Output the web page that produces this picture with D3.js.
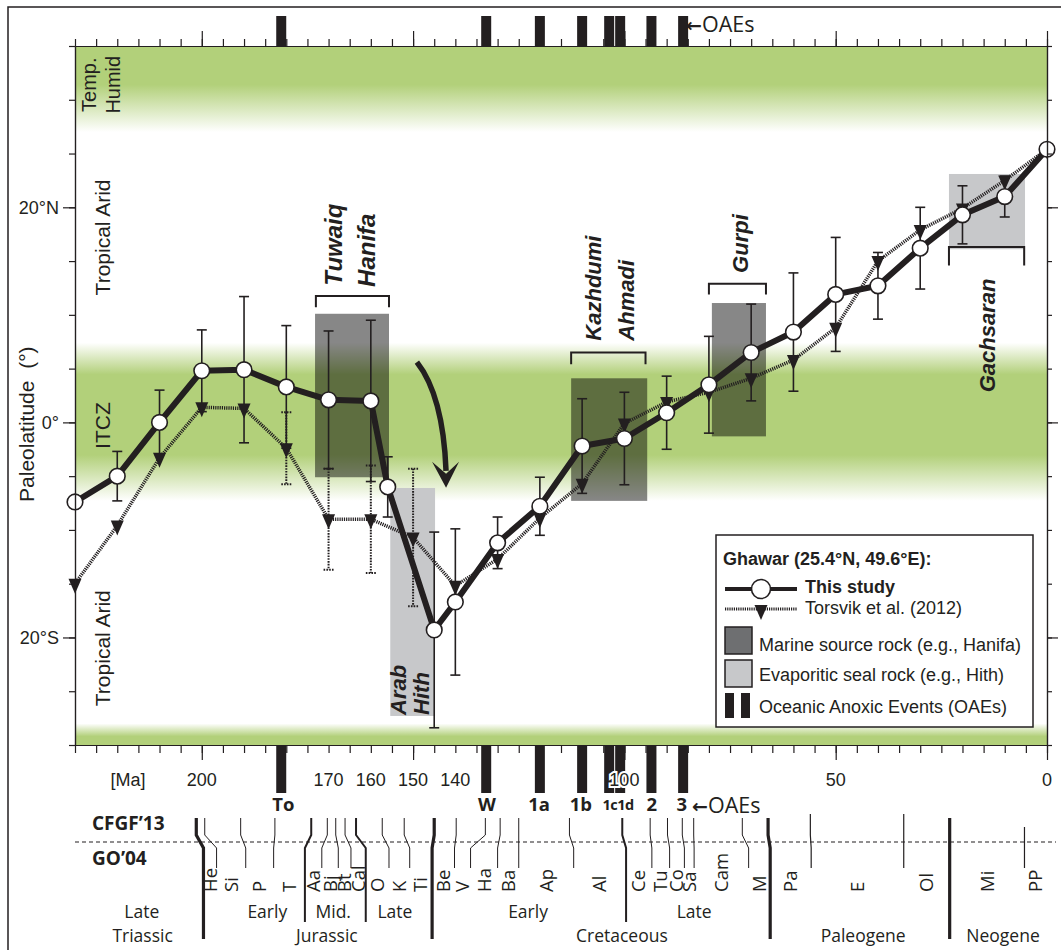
<!DOCTYPE html>
<html>
<head>
<meta charset="utf-8">
<script src="https://cdnjs.cloudflare.com/ajax/libs/d3/7.8.5/d3.min.js"></script>
<style>
  body { margin: 0; background: #fff; }
  svg text { font-family: "Liberation Sans", Arial, sans-serif; fill: #231f20; }
  svg .scale text { font-family: "Open Sans", sans-serif; }
  svg .scale tspan.arrow { font-family: "DejaVu Sans", sans-serif; }
</style>
</head>
<body>
<div id="chart"></div>
<script>
"use strict";

// == DATA ==
// This study (Ghawar), age in Ma, paleolatitude in degrees, 95% error
var studyAge = [230, 220, 210, 200, 190, 180, 170, 160, 156, 145, 140, 130, 120, 110, 100, 90, 80, 70, 60, 50, 40, 30, 20, 10, 0];
var studyLat = [-7.4, -5.0, 0.0, 4.8, 4.9, 3.3, 2.1, 2.0, -6.0, -19.3, -16.7, -11.2, -7.8, -2.2, -1.5, 0.9, 3.5, 6.5, 8.4, 11.9, 12.7, 16.2, 19.3, 21.0, 25.4];
var studyErr = [0, 2.3, 3.0, 3.8, 6.8, 5.7, 6.4, 7.5, 2.8, 9.1, 6.8, 2.4, 2.7, 4.4, 4.3, 3.4, 4.5, 4.5, 5.5, 5.3, 3.1, 3.8, 2.7, 1.9, 0];

// Torsvik et al. (2012)
var torsvikAge = [230, 220, 210, 200, 190, 180, 170, 160, 150, 140, 130, 120, 110, 100, 90, 80, 70, 60, 50, 40, 30, 20, 10, 0];
var torsvikLat = [-15.0, -9.6, -3.3, 1.4, 1.3, -2.4, -9.0, -9.0, -10.7, -15.2, -12.7, -8.9, -5.7, -0.1, 1.9, 2.8, 4.1, 5.8, 8.8, 15.0, 17.9, 19.9, 22.5, 25.4];
var torsvikErr = [0, 0, 0, 0, 0, 3.35, 4.7, 5.0, 6.4, 0, 0, 0, 0, 0, 0, 0, 0, 0, 0, 0, 0, 0, 0, 0];

// source rocks (dark boxes) and evaporitic seals (light boxes)
var sourceAge = [[173.2, 155.7], [112.6, 94.6], [79.3, 66.5]];
var sourceLat = [[10.1, -5.1], [4.1, -7.3], [11.1, -1.3]];
var sealAge = [[155.4, 144.8], [23.2, 5.2]];
var sealLat = [[-6.1, -27.3], [23.1, 16.1]];

// brackets above / below the boxes
var bracketAge = [[173.0, 155.7], [112.6, 95.0], [80.0, 66.5], [23.2, 5.4]];
var bracketLat = [[11.75, 10.7], [6.5, 5.4], [12.9, 11.9], [16.3, 14.6]];

// formation names
var formationNames = ["Tuwaiq", "Hanifa", "Kazhdumi", "Ahmadi", "Gurpi", "Arab", "Hith", "Gachsaran"];
var formationAge = [168.9, 160.9, 107.4, 99.6, 72.6, 153.6, 148.1, 14.2];
var formationLat = [12.7, 12.6, 7.6, 7.6, 13.9, -27.2, -27.2, 2.8];
var formationSize = [24, 24, 22, 22, 22, 22, 22, 22];

// arrow (start, control, end)
var arrowAge = [149.1, 142.9, 142.2];
var arrowLat = [5.6, 2.5, -4.5];

// Oceanic Anoxic Events
var oaeAge = [181.2, 132.7, 120.0, 110.0, 103.6, 101.0, 93.6, 86.1];
var oaeLabels = ["To", "W", "1a", "1b", "1c1d", "2", "3"];
var oaeLabelAge = [180.7, 132.5, 120.2, 110.3, 101.5, 93.5, 86.4];

// climate belts
var bandTop = [35, 27];
var bandMid = [7.4, -7.3];
var bandBottom = [-28, -30];
var beltNames = ["Tropical Arid", "ITCZ", "Tropical Arid"];
var beltLat = [17.2, -0.3, -21.0];

// axis labels
var xLabelTicks = [200, 170, 160, 150, 140, 100, 50, 0];
var yLabelTicks = [20, 0, -20];

// time scale: CFGF'13 vs GO'04 boundaries
var cfgfBounds = [201.3, 199.3, 190.8, 182.7, 174.1, 170.3, 168.3, 166.1, 163.5, 157.3, 152.1, 145.0, 139.8, 132.9, 129.4, 125.0, 113.0, 100.5, 93.9, 89.8, 86.3, 83.6, 72.1, 66.0, 56.0, 33.9, 23.03, 5.33];
var go04Bounds = [199.6, 196.5, 189.6, 183.0, 175.6, 171.6, 167.7, 164.7, 161.2, 155.7, 150.8, 145.5, 140.2, 136.4, 130.0, 125.0, 112.0, 99.6, 93.5, 89.3, 85.8, 83.5, 70.6, 65.5, 55.8, 33.9, 23.03, 5.33];
var boundType = ["P", "S", "S", "S", "E", "S", "S", "S", "E", "S", "S", "P", "S", "S", "S", "S", "S", "E", "S", "S", "S", "S", "S", "P", "C", "C", "P", "c"];
var stageNames = ["He", "Si", "P", "T", "Aa", "Bj", "Bt", "Cal", "O", "K", "Ti", "Be", "V", "Ha", "Ba", "Ap", "Al", "Ce", "Tu", "Co", "Sa", "Cam", "M", "Pa", "E", "Ol", "Mi", "PP"];
var epochNames = ["Late", "Early", "Mid.", "Late", "Early", "Late"];
var epochAge = [214.2, 184.5, 168.9, 154.3, 122.8, 83.5];
var periodNames = ["Triassic", "Jurassic", "Cretaceous", "Paleogene", "Neogene"];
var periodAge = [214.0, 170.4, 100.6, 43.5, 10.4];

// == BOILERPLATE ==
var W = 1061, H = 950;
var ink = "#231f20";
var green = "#b2d07a";

var svg = d3.select("#chart")
            .append("svg")
            .attr("width", W)
            .attr("height", H);

var x = d3.scaleLinear().domain([230, 0]).range([75, 1047]);
var y = d3.scaleLinear().domain([35, -30]).range([46, 745]);

// outer frame
svg.append("rect")
   .attr("x", 8).attr("y", 7)
   .attr("width", 1080).attr("height", 980)
   .attr("fill", "none")
   .attr("stroke", ink)
   .attr("stroke-width", 1.5);

// == GREEN CLIMATE BANDS ==
var defs = svg.append("defs");
function addGradient(id, stops) {
  var g = defs.append("linearGradient")
              .attr("id", id)
              .attr("x1", 0).attr("x2", 0).attr("y1", 0).attr("y2", 1);
  stops.forEach(function (s) {
    g.append("stop")
     .attr("offset", s[0])
     .attr("stop-color", green)
     .attr("stop-opacity", s[1]);
  });
}
addGradient("gTop", [[0, 1], [0.45, 1], [1, 0]]);
addGradient("gMid", [[0, 0], [0.2, 1], [0.71, 1], [1, 0]]);
addGradient("gBot", [[0, 0], [0.6, 1], [1, 1]]);

[[bandTop, "gTop"], [bandMid, "gMid"], [bandBottom, "gBot"]].forEach(function (b) {
  svg.append("rect")
     .attr("x", x(230))
     .attr("width", x(0) - x(230))
     .attr("y", y(b[0][0]))
     .attr("height", y(b[0][1]) - y(b[0][0]))
     .attr("fill", "url(#" + b[1] + ")");
});

// == BOXES ==
svg.selectAll("rect.seal")
   .data(sealAge)
   .enter()
   .append("rect")
   .attr("class", "seal")
   .attr("x", function (d) { return x(d[0]); })
   .attr("width", function (d) { return x(d[1]) - x(d[0]); })
   .attr("y", function (d, i) { return y(sealLat[i][0]); })
   .attr("height", function (d, i) { return y(sealLat[i][1]) - y(sealLat[i][0]); })
   .attr("fill", "#c7c8ca");

svg.selectAll("rect.source")
   .data(sourceAge)
   .enter()
   .append("rect")
   .attr("class", "source")
   .attr("x", function (d) { return x(d[0]); })
   .attr("width", function (d) { return x(d[1]) - x(d[0]); })
   .attr("y", function (d, i) { return y(sourceLat[i][0]); })
   .attr("height", function (d, i) { return y(sourceLat[i][1]) - y(sourceLat[i][0]); })
   .attr("fill", "#000")
   .attr("fill-opacity", 0.47);

// brackets
svg.selectAll("path.bracket")
   .data(bracketAge)
   .enter()
   .append("path")
   .attr("class", "bracket")
   .attr("d", function (d, i) {
     var a = y(bracketLat[i][0]), b = y(bracketLat[i][1]);
     return "M" + x(d[0]) + "," + b + "L" + x(d[0]) + "," + a +
            "L" + x(d[1]) + "," + a + "L" + x(d[1]) + "," + b;
   })
   .attr("fill", "none")
   .attr("stroke", ink)
   .attr("stroke-width", 2);

// formation names
svg.selectAll("text.formation")
   .data(formationNames)
   .enter()
   .append("text")
   .attr("class", "formation")
   .attr("transform", function (d, i) {
     return "translate(" + x(formationAge[i]) + "," + y(formationLat[i]) + ") rotate(-90)";
   })
   .attr("dy", "0.35em")
   .attr("font-size", function (d, i) { return formationSize[i]; })
   .attr("font-weight", "bold")
   .attr("font-style", "italic")
   .text(function (d) { return d; });

// == ERROR BARS ==
function errorBars(ages, lats, errs, dashed) {
  var g = svg.append("g")
             .attr("stroke", ink)
             .attr("stroke-width", dashed ? 2 : 1.6)
             .attr("stroke-dasharray", dashed ? "1.6,1.2" : null);
  ages.forEach(function (a, i) {
    if (errs[i] === 0) { return; }
    var cx = x(a), t = y(lats[i] + errs[i]), b = y(lats[i] - errs[i]);
    g.append("line").attr("x1", cx).attr("x2", cx).attr("y1", t).attr("y2", b);
    g.append("line").attr("x1", cx - 5).attr("x2", cx + 5).attr("y1", t).attr("y2", t);
    g.append("line").attr("x1", cx - 5).attr("x2", cx + 5).attr("y1", b).attr("y2", b);
  });
}
errorBars(torsvikAge, torsvikLat, torsvikErr, true);
errorBars(studyAge, studyLat, studyErr, false);

// == TORSVIK ET AL. (2012) ==
var torsvikLine = d3.line()
                    .x(function (d, i) { return x(torsvikAge[i]); })
                    .y(function (d) { return y(d); });
svg.append("path")
   .datum(torsvikLat)
   .attr("d", torsvikLine)
   .attr("fill", "none")
   .attr("stroke", ink)
   .attr("stroke-width", 3.5)
   .attr("stroke-dasharray", "1.2,1");

var triangle = "M-6.5,-5L6.5,-5L0,10Z";
svg.selectAll("path.tri")
   .data(torsvikLat)
   .enter()
   .append("path")
   .attr("class", "tri")
   .attr("d", triangle)
   .attr("transform", function (d, i) { return "translate(" + x(torsvikAge[i]) + "," + y(d) + ")"; })
   .attr("fill", ink);

// == THIS STUDY ==
var studyLine = d3.line()
                  .x(function (d, i) { return x(studyAge[i]); })
                  .y(function (d) { return y(d); });
svg.append("path")
   .datum(studyLat)
   .attr("d", studyLine)
   .attr("fill", "none")
   .attr("stroke", ink)
   .attr("stroke-width", 6)
   .attr("stroke-linejoin", "round");

svg.selectAll("circle.study")
   .data(studyLat)
   .enter()
   .append("circle")
   .attr("class", "study")
   .attr("cx", function (d, i) { return x(studyAge[i]); })
   .attr("cy", function (d) { return y(d); })
   .attr("r", 7.8)
   .attr("fill", "#fff")
   .attr("stroke", ink)
   .attr("stroke-width", 1.6);

// == ARROW ==
var ax = arrowAge.map(x), ay = arrowLat.map(y);
svg.append("path")
   .attr("d", "M" + ax[0] + "," + ay[0] + "Q" + ax[1] + "," + ay[1] + " " + ax[2] + "," + ay[2])
   .attr("fill", "none")
   .attr("stroke", ink)
   .attr("stroke-width", 5.5);
svg.append("path")
   .attr("d", "M-14,-9L0,17L13,-9L0,3Z")
   .attr("transform", "translate(" + ax[2] + "," + ay[2] + ")")
   .attr("fill", ink);

// == CLIMATE LABELS ==
svg.selectAll("text.belt")
   .data(beltNames)
   .enter()
   .append("text")
   .attr("class", "belt")
   .attr("transform", function (d, i) { return "translate(103," + y(beltLat[i]) + ") rotate(-90)"; })
   .attr("text-anchor", "middle")
   .attr("dy", "0.35em")
   .attr("font-size", 21)
   .text(function (d) { return d; });

svg.selectAll("text.temp")
   .data(["Temp.", "Humid"])
   .enter()
   .append("text")
   .attr("transform", function (d, i) { return "translate(" + (89 + i * 24) + "," + y(31.4) + ") rotate(-90)"; })
   .attr("text-anchor", "middle")
   .attr("dy", "0.35em")
   .attr("font-size", 20)
   .text(function (d) { return d; });

svg.append("text")
   .attr("transform", "translate(27," + y(-7.4) + ") rotate(-90)")
   .attr("dy", "0.35em")
   .attr("font-size", 21)
   .attr("xml:space", "preserve")
   .text("Paleolatitude  (°)");

// == AXES ==
function styleAxis(g) {
  g.selectAll("path, line").attr("stroke", ink).attr("stroke-width", 1.2);
  g.selectAll("text").attr("fill", ink);
}
var minorX = d3.range(0, 231, 5);
var majorX = [200, 150, 100, 50, 0];
var minorY = d3.range(-30, 36, 5);

svg.append("g").attr("transform", "translate(0,46)")
   .call(d3.axisTop(x).tickValues(minorX).tickSize(7).tickSizeOuter(0).tickFormat(""))
   .call(styleAxis);
svg.append("g").attr("transform", "translate(0,46)")
   .call(d3.axisTop(x).tickValues(majorX).tickSize(15).tickSizeOuter(0).tickFormat(""))
   .call(styleAxis);
svg.append("g").attr("transform", "translate(0,745)")
   .call(d3.axisBottom(x).tickValues(minorX).tickSize(8).tickSizeOuter(0).tickFormat(""))
   .call(styleAxis);
svg.append("g").attr("transform", "translate(0,745)")
   .call(d3.axisBottom(x).tickValues(majorX).tickSize(15).tickSizeOuter(0).tickFormat(""))
   .call(styleAxis);

svg.append("g").attr("transform", "translate(75,0)")
   .call(d3.axisLeft(y).tickValues(minorY).tickSize(6).tickSizeOuter(0).tickFormat(""))
   .call(styleAxis);
svg.append("g").attr("transform", "translate(75,0)")
   .attr("class", "yax")
   .call(d3.axisLeft(y).tickValues(yLabelTicks).tickSize(12).tickPadding(4).tickSizeOuter(0)
           .tickFormat(function (d) { return d === 0 ? "0°" : Math.abs(d) + "°" + (d > 0 ? "N" : "S"); }))
   .call(styleAxis)
   .selectAll("text")
   .attr("font-size", 18)
   .attr("font-family", "Liberation Sans, Arial, sans-serif");
svg.append("g").attr("transform", "translate(1047,0)")
   .call(d3.axisRight(y).tickValues(minorY).tickSize(5).tickSizeOuter(0).tickFormat(""))
   .call(styleAxis);
svg.append("g").attr("transform", "translate(1047,0)")
   .call(d3.axisRight(y).tickValues(yLabelTicks).tickSize(11).tickSizeOuter(0).tickFormat(""))
   .call(styleAxis);

// == OAE BARS ==
svg.selectAll("rect.oaeTop")
   .data(oaeAge)
   .enter()
   .append("rect")
   .attr("x", function (d) { return x(d) - 5; })
   .attr("width", 10)
   .attr("y", 16)
   .attr("height", 30)
   .attr("fill", ink);
svg.selectAll("rect.oaeBot")
   .data(oaeAge)
   .enter()
   .append("rect")
   .attr("x", function (d) { return x(d) - 5; })
   .attr("width", 10)
   .attr("y", 745)
   .attr("height", 48)
   .attr("fill", ink);

// x labels (the "100" gets a white halo over the OAE bars)
svg.selectAll("text.xlab")
   .data(xLabelTicks)
   .enter()
   .append("text")
   .attr("class", "xlab")
   .attr("x", function (d) { return x(d); })
   .attr("y", 780)
   .attr("dy", "0.35em")
   .attr("text-anchor", "middle")
   .attr("font-size", 18)
   .attr("stroke", function (d) { return d === 100 ? "#fff" : "none"; })
   .attr("stroke-width", 4)
   .attr("paint-order", "stroke")
   .text(function (d) { return d; });
svg.append("text")
   .attr("x", 128).attr("y", 780).attr("dy", "0.35em")
   .attr("text-anchor", "middle")
   .attr("font-size", 18)
   .text("[Ma]");

var scale = svg.append("g").attr("class", "scale");

function oaeTag(xPos, yPos) {
  var t = scale.append("text")
               .attr("x", xPos).attr("y", yPos).attr("dy", "0.35em")
               .attr("font-size", 21.5);
  t.append("tspan").attr("class", "arrow").attr("font-size", 19).attr("font-weight", "bold").text("←");
  t.append("tspan").text("OAEs");
}
oaeTag(686, 24);

scale.selectAll("text.oae")
     .data(oaeLabels)
     .enter()
     .append("text")
     .attr("x", function (d, i) { return x(oaeLabelAge[i]); })
     .attr("y", 805)
     .attr("dy", "0.35em")
     .attr("text-anchor", "middle")
     .attr("font-weight", "bold")
     .attr("font-size", function (d) { return d === "1c1d" ? 14.5 : 18.5; })
     .attr("letter-spacing", function (d) { return d === "1c1d" ? "-0.5" : null; })
     .text(function (d) { return d; });
oaeTag(692, 805);

// == TIME SCALE ==
scale.append("text").attr("x", 92).attr("y", 823).attr("dy", "0.35em")
     .attr("font-weight", "bold").attr("font-size", 19).text("CFGF’13");
scale.append("text").attr("x", 92).attr("y", 858).attr("dy", "0.35em")
     .attr("font-weight", "bold").attr("font-size", 19).text("GO’04");

scale.append("line")
     .attr("x1", 75).attr("x2", 1056)
     .attr("y1", 842).attr("y2", 842)
     .attr("stroke", ink)
     .attr("stroke-width", 1.2)
     .attr("stroke-dasharray", "4,3");

var boundStyle = {
  P: { w: 3.2, top: 818, bottom: 939 },
  E: { w: 2, top: 818, bottom: 922 },
  S: { w: 1, top: 818, bottom: 868 },
  C: { w: 1.2, top: 814, bottom: 868 },
  c: { w: 1.2, top: 827, bottom: 868 }
};
scale.selectAll("path.bound")
     .data(cfgfBounds)
     .enter()
     .append("path")
     .attr("class", "bound")
     .attr("d", function (d, i) {
       var s = boundStyle[boundType[i]], xt = x(d), xb = x(go04Bounds[i]);
       return "M" + xt + "," + s.top + "L" + xt + ",835L" + xb + ",848L" + xb + "," + s.bottom;
     })
     .attr("fill", "none")
     .attr("stroke", ink)
     .attr("stroke-width", function (d, i) { return boundStyle[boundType[i]].w; });

var stageEdges = go04Bounds.concat([0]);
scale.selectAll("text.stage")
     .data(stageNames)
     .enter()
     .append("text")
     .attr("class", "stage")
     .attr("transform", function (d, i) {
       return "translate(" + x((stageEdges[i] + stageEdges[i + 1]) / 2) + ",892) rotate(-90)";
     })
     .attr("dy", "0.35em")
     .attr("font-size", 18.5)
     .text(function (d) { return d; });

scale.selectAll("text.epoch")
     .data(epochNames)
     .enter()
     .append("text")
     .attr("x", function (d, i) { return x(epochAge[i]); })
     .attr("y", 912)
     .attr("dy", "0.35em")
     .attr("text-anchor", "middle")
     .attr("font-size", 17.5)
     .text(function (d) { return d; });

scale.selectAll("text.period")
     .data(periodNames)
     .enter()
     .append("text")
     .attr("x", function (d, i) { return x(periodAge[i]); })
     .attr("y", 936)
     .attr("dy", "0.35em")
     .attr("text-anchor", "middle")
     .attr("font-size", 17.5)
     .text(function (d) { return d; });

// == LEGEND ==
var legend = svg.append("g");
legend.append("rect")
      .attr("x", 716).attr("y", 535)
      .attr("width", 317).attr("height", 192)
      .attr("fill", "#fff")
      .attr("stroke", ink)
      .attr("stroke-width", 1.5);
legend.append("text").attr("x", 723).attr("y", 559).attr("dy", "0.35em")
      .attr("font-size", 18).attr("font-weight", "bold")
      .text("Ghawar (25.4°N, 49.6°E):");

legend.append("line").attr("x1", 725).attr("x2", 797).attr("y1", 589).attr("y2", 589)
      .attr("stroke", ink).attr("stroke-width", 4);
legend.append("circle").attr("cx", 761).attr("cy", 589).attr("r", 9.5)
      .attr("fill", "#fff").attr("stroke", ink).attr("stroke-width", 1.6);
legend.append("text").attr("x", 805).attr("y", 587).attr("dy", "0.35em")
      .attr("font-size", 18).attr("font-weight", "bold").text("This study");

legend.append("line").attr("x1", 725).attr("x2", 797).attr("y1", 609).attr("y2", 609)
      .attr("stroke", ink).attr("stroke-width", 3).attr("stroke-dasharray", "1.2,1");
legend.append("path").attr("d", triangle).attr("transform", "translate(761,610)").attr("fill", ink);
legend.append("text").attr("x", 805).attr("y", 608).attr("dy", "0.35em")
      .attr("font-size", 18).text("Torsvik et al. (2012)");

legend.append("rect").attr("x", 725).attr("y", 627).attr("width", 27).attr("height", 27)
      .attr("fill", "#6e6f71").attr("stroke", ink).attr("stroke-width", 1.5);
legend.append("text").attr("x", 759).attr("y", 645).attr("dy", "0.35em")
      .attr("font-size", 18).text("Marine source rock (e.g., Hanifa)");

legend.append("rect").attr("x", 725).attr("y", 660).attr("width", 27).attr("height", 27)
      .attr("fill", "#c7c8ca").attr("stroke", ink).attr("stroke-width", 1.5);
legend.append("text").attr("x", 759).attr("y", 675).attr("dy", "0.35em")
      .attr("font-size", 18).text("Evaporitic seal rock (e.g., Hith)");

legend.append("rect").attr("x", 725).attr("y", 693).attr("width", 9).attr("height", 25).attr("fill", ink);
legend.append("rect").attr("x", 741).attr("y", 693).attr("width", 9).attr("height", 25).attr("fill", ink);
legend.append("text").attr("x", 759).attr("y", 707).attr("dy", "0.35em")
      .attr("font-size", 18).text("Oceanic Anoxic Events (OAEs)");
</script>
</body>
</html>
